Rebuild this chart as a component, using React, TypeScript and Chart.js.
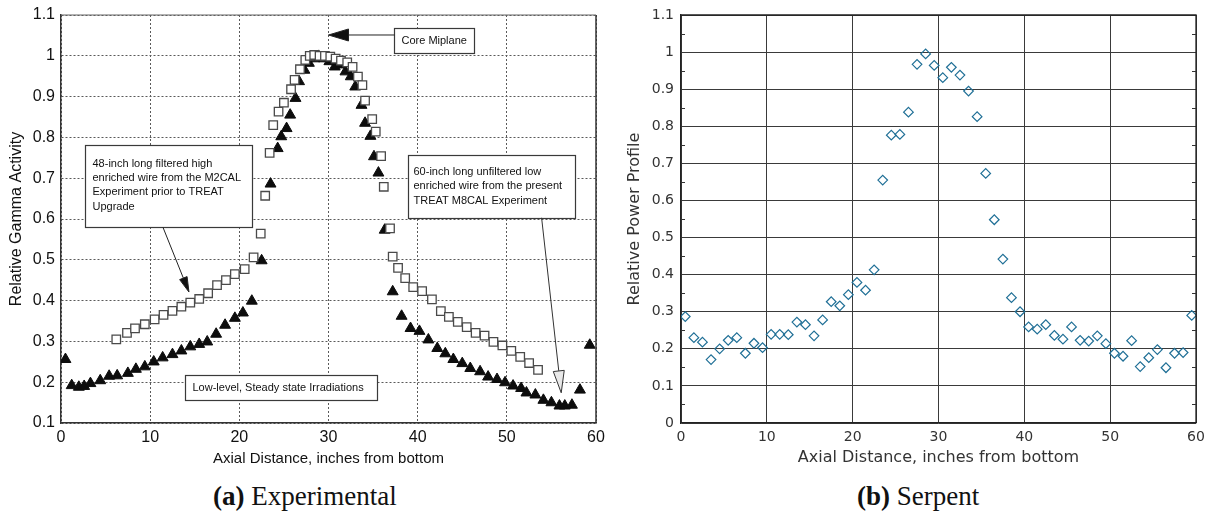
import React, { useEffect, useRef } from 'react';
import Chart from 'chart.js/auto';

// ---------- Data: (a) Experimental ----------
// 48-inch M2CAL wire (open squares)
const m2calPositions = [6.2, 7.4, 8.3, 9.4, 10.5, 11.5, 12.5, 13.5, 14.5, 15.5, 16.5, 17.5, 18.5, 19.5, 20.6, 21.6, 22.4, 22.9, 23.4, 23.8, 24.4, 25.0, 25.8, 26.2, 26.8, 27.4, 27.9, 28.4, 29.0, 29.6, 30.2, 30.8, 31.4, 32.1, 32.7, 33.3, 33.8, 34.1, 34.9, 35.3, 35.9, 36.2, 36.9, 37.2, 37.8, 38.6, 39.5, 40.5, 41.6, 42.6, 43.5, 44.5, 45.5, 46.5, 47.5, 48.5, 49.5, 50.5, 51.5, 52.5, 53.5];
const m2calActivity = [0.305, 0.321, 0.332, 0.342, 0.354, 0.365, 0.375, 0.385, 0.395, 0.404, 0.418, 0.438, 0.45, 0.465, 0.477, 0.506, 0.564, 0.657, 0.762, 0.83, 0.863, 0.885, 0.918, 0.941, 0.967, 0.99, 1.0, 1.002, 1.0, 1.0, 0.998, 0.993, 0.988, 0.984, 0.973, 0.949, 0.928, 0.89, 0.845, 0.814, 0.754, 0.679, 0.577, 0.508, 0.48, 0.455, 0.433, 0.423, 0.403, 0.374, 0.36, 0.348, 0.335, 0.321, 0.314, 0.299, 0.29, 0.277, 0.262, 0.247, 0.23];

// 60-inch M8CAL wire (filled triangles)
const m8calPositions = [0.5, 1.2, 2.0, 2.6, 3.3, 4.4, 5.4, 6.3, 7.5, 8.4, 9.4, 10.4, 11.4, 12.5, 13.5, 14.5, 15.5, 16.4, 17.4, 18.4, 19.5, 20.4, 21.4, 22.5, 23.5, 24.3, 24.7, 25.3, 25.7, 26.3, 26.7, 27.3, 27.8, 28.4, 28.9, 29.5, 30.1, 30.7, 31.4, 31.9, 32.5, 33.0, 33.7, 34.1, 34.7, 35.1, 35.6, 36.3, 37.2, 38.2, 39.2, 40.2, 41.2, 42.2, 43.1, 44.0, 45.0, 45.9, 47.0, 47.9, 48.9, 49.8, 50.7, 51.6, 52.2, 53.2, 54.1, 55.0, 55.9, 56.5, 57.3, 58.2, 59.3];
const m8calActivity = [0.256, 0.192, 0.188, 0.19, 0.197, 0.204, 0.215, 0.216, 0.222, 0.232, 0.238, 0.25, 0.26, 0.268, 0.277, 0.287, 0.293, 0.299, 0.318, 0.34, 0.357, 0.37, 0.399, 0.498, 0.686, 0.773, 0.802, 0.822, 0.855, 0.896, 0.937, 0.965, 0.982, 0.993, 0.999, 0.993, 0.986, 0.973, 0.978, 0.961, 0.949, 0.924, 0.879, 0.835, 0.803, 0.753, 0.713, 0.573, 0.422, 0.362, 0.332, 0.325, 0.304, 0.283, 0.27, 0.256, 0.246, 0.234, 0.226, 0.213, 0.207, 0.199, 0.191, 0.185, 0.174, 0.169, 0.156, 0.15, 0.142, 0.142, 0.144, 0.181, 0.291];

const expXTicks = [0, 10, 20, 30, 40, 50, 60];
const expYTicks = [0.1, 0.2, 0.3, 0.4, 0.5, 0.6, 0.7, 0.8, 0.9, 1.0, 1.1];

const coreLabel = ['Core Miplane'];
const m2calLabel = ['48-inch long filtered high', 'enriched wire from the M2CAL', 'Experiment prior to TREAT', 'Upgrade'];
const m8calLabel = ['60-inch long unfiltered low', 'enriched wire from the present', 'TREAT M8CAL Experiment'];
const irradLabel = ['Low-level, Steady state Irradiations'];

// ---------- Data: (b) Serpent ----------
const serpentPositions = [0.5, 1.5, 2.5, 3.5, 4.5, 5.5, 6.5, 7.5, 8.5, 9.5, 10.5, 11.5, 12.5, 13.5, 14.5, 15.5, 16.5, 17.5, 18.5, 19.5, 20.5, 21.5, 22.5, 23.5, 24.5, 25.5, 26.5, 27.5, 28.5, 29.5, 30.5, 31.5, 32.5, 33.5, 34.5, 35.5, 36.5, 37.5, 38.5, 39.5, 40.5, 41.5, 42.5, 43.5, 44.5, 45.5, 46.5, 47.5, 48.5, 49.5, 50.5, 51.5, 52.5, 53.5, 54.5, 55.5, 56.5, 57.5, 58.5, 59.5];
const serpentPower = [0.287, 0.23, 0.218, 0.171, 0.2, 0.223, 0.23, 0.188, 0.215, 0.203, 0.239, 0.239, 0.238, 0.272, 0.265, 0.235, 0.278, 0.327, 0.316, 0.346, 0.379, 0.358, 0.413, 0.655, 0.776, 0.778, 0.838, 0.967, 0.995, 0.964, 0.931, 0.959, 0.938, 0.895, 0.826, 0.673, 0.548, 0.442, 0.338, 0.3, 0.259, 0.253, 0.265, 0.236, 0.226, 0.259, 0.223, 0.221, 0.235, 0.214, 0.188, 0.18, 0.222, 0.152, 0.176, 0.198, 0.149, 0.188, 0.19, 0.29];
const serpentXTicks = [0, 10, 20, 30, 40, 50, 60];
const serpentYTicks = [0, 0.1, 0.2, 0.3, 0.4, 0.5, 0.6, 0.7, 0.8, 0.9, 1.0, 1.1];
const serpentMinorTicks = [0.05, 0.15, 0.25, 0.35, 0.45, 0.55, 0.65, 0.75, 0.85, 0.95, 1.05];

const SANS = "'Liberation Sans', Arial, Helvetica, sans-serif";
const DEJAVU = "'DejaVu Sans', 'Noto Sans', sans-serif";

const fmt = (v: any) => String(Math.round(Number(v) * 10) / 10);

function drawArrow(ctx: CanvasRenderingContext2D, x1: number, y1: number, x2: number, y2: number, headLen: number, headHalf: number, fill: string, stroke: string) {
  const ang = Math.atan2(y2 - y1, x2 - x1);
  const bx = x2 - headLen * Math.cos(ang);
  const by = y2 - headLen * Math.sin(ang);
  ctx.strokeStyle = stroke;
  ctx.lineWidth = 1;
  ctx.beginPath();
  ctx.moveTo(x1, y1);
  ctx.lineTo(bx, by);
  ctx.stroke();
  const px = -Math.sin(ang) * headHalf;
  const py = Math.cos(ang) * headHalf;
  ctx.beginPath();
  ctx.moveTo(x2, y2);
  ctx.lineTo(bx + px, by + py);
  ctx.lineTo(bx - px, by - py);
  ctx.closePath();
  ctx.fillStyle = fill;
  ctx.fill();
  ctx.stroke();
}

function drawBox(ctx: CanvasRenderingContext2D, x1: number, y1: number, x2: number, y2: number, lines: string[], padX: number, firstY: number, lineGap: number) {
  const l = Math.round(Math.min(x1, x2)) + 0.5;
  const t = Math.round(Math.min(y1, y2)) + 0.5;
  const w = Math.round(Math.abs(x2 - x1));
  const h = Math.round(Math.abs(y2 - y1));
  ctx.fillStyle = '#ffffff';
  ctx.fillRect(l, t, w, h);
  ctx.strokeStyle = '#3a3a3a';
  ctx.lineWidth = 1.2;
  ctx.strokeRect(l, t, w, h);
  ctx.fillStyle = '#111';
  ctx.font = `11px ${SANS}`;
  ctx.textAlign = 'left';
  ctx.textBaseline = 'middle';
  lines.forEach((s, i) => ctx.fillText(s, l + padX, t + firstY + i * lineGap));
}

const expAnnotations = {
  id: 'expAnnotations',
  afterDatasetsDraw(chart: any) {
    const { ctx, chartArea, scales } = chart;
    const X = (v: number) => scales.x.getPixelForValue(v);
    const Y = (v: number) => scales.y.getPixelForValue(v);
    ctx.save();
    // solid right and top frame
    ctx.strokeStyle = '#333';
    ctx.lineWidth = 1.5;
    ctx.beginPath();
    ctx.moveTo(chartArea.right, chartArea.top);
    ctx.lineTo(chartArea.right, chartArea.bottom);
    ctx.stroke();
    ctx.strokeStyle = '#666';
    ctx.lineWidth = 1.2;
    ctx.beginPath();
    ctx.moveTo(chartArea.left, chartArea.top);
    ctx.lineTo(chartArea.right, chartArea.top);
    ctx.stroke();

    // Core midplane
    drawBox(ctx, X(37.4), Y(1.068), X(46.4), Y(1.007), coreLabel, 7, 12.5, 14);
    drawArrow(ctx, X(37.4), Y(1.051), X(30.0), Y(1.051), 20, 6, '#111', '#222');

    // 48-inch
    drawBox(ctx, X(2.69), Y(0.781), X(21.4), Y(0.580), m2calLabel, 7, 18, 14.4);
    drawArrow(ctx, X(11.43), Y(0.580), X(14.35), Y(0.421), 15, 4, '#111', '#222');

    // 60-inch
    drawBox(ctx, X(38.9), Y(0.757), X(57.6), Y(0.603), m8calLabel, 5, 16, 14.5);
    drawArrow(ctx, X(53.9), Y(0.603), X(56.1), Y(0.174), 22, 5.5, '#e8e8e8', '#333');

    // Low-level
    drawBox(ctx, X(13.9), Y(0.218), X(35.4), Y(0.156), irradLabel, 7, 12.5, 14);
    ctx.restore();
  },
};

const serpentFrame = {
  id: 'serpentFrame',
  afterDatasetsDraw(chart: any) {
    const { ctx, chartArea, scales } = chart;
    ctx.save();
    ctx.strokeStyle = '#222';
    ctx.lineWidth = 1.3;
    ctx.beginPath();
    ctx.moveTo(chartArea.left, chartArea.top);
    ctx.lineTo(chartArea.right, chartArea.top);
    ctx.lineTo(chartArea.right, chartArea.bottom);
    ctx.stroke();
    ctx.lineWidth = 1;
    ctx.strokeStyle = '#333';
    serpentMinorTicks.forEach((v) => {
      const y = Math.round(scales.y.getPixelForValue(v)) + 0.5;
      ctx.beginPath();
      ctx.moveTo(chartArea.left, y);
      ctx.lineTo(chartArea.left + 4, y);
      ctx.moveTo(chartArea.right, y);
      ctx.lineTo(chartArea.right - 4, y);
      ctx.stroke();
    });
    ctx.restore();
  },
};

function expConfig(): any {
  return {
    type: 'scatter',
    data: {
      datasets: [
        {
          label: '48-inch M2CAL',
          data: m2calPositions.map((x, i) => ({ x, y: m2calActivity[i] })),
          pointStyle: 'rect',
          pointRadius: 6,
          borderColor: '#4a4a4a',
          backgroundColor: '#ffffff',
          borderWidth: 1.3,
        },
        {
          label: '60-inch M8CAL',
          data: m8calPositions.map((x, i) => ({ x, y: m8calActivity[i] })),
          pointStyle: 'triangle',
          pointRadius: 6.3,
          borderColor: '#0d0d0d',
          backgroundColor: '#0d0d0d',
          borderWidth: 1,
        },
      ],
    },
    options: {
      animation: false,
      responsive: false,
      devicePixelRatio: 1,
      layout: { padding: { left: 0, top: 15, right: 14, bottom: 0 } },
      plugins: { legend: { display: false }, tooltip: { enabled: false } },
      scales: {
        x: {
          type: 'linear',
          min: 0,
          max: 60,
          afterBuildTicks: (s: any) => { s.ticks = expXTicks.map((v) => ({ value: v })); },
          ticks: { font: { family: SANS, size: 16 }, color: '#111', padding: 5, maxRotation: 0, autoSkip: false, callback: fmt },
          grid: { color: '#5a5a5a', lineWidth: 1, drawTicks: false },
          border: { display: true, color: '#333', width: 1.5, dash: [2, 2] },
          title: { display: true, text: 'Axial Distance, inches from bottom', color: '#111', font: { family: SANS, size: 15 }, padding: { top: 0, bottom: 7 } },
          afterFit: (s: any) => { s.height = 52; s.paddingLeft = 0; s.paddingRight = 0; },
        },
        y: {
          type: 'linear',
          min: 0.1,
          max: 1.1,
          afterBuildTicks: (s: any) => { s.ticks = expYTicks.map((v) => ({ value: v })); },
          ticks: { font: { family: SANS, size: 16 }, color: '#111', padding: 6, autoSkip: false, callback: fmt },
          grid: { color: '#5a5a5a', lineWidth: 1, drawTicks: false },
          border: { display: true, color: '#333', width: 1.5, dash: [2, 2] },
          title: { display: true, text: 'Relative Gamma Activity', color: '#111', font: { family: SANS, size: 16 }, padding: { top: 7, bottom: 0 } },
          afterFit: (s: any) => { s.width = 61; s.paddingTop = 0; s.paddingBottom = 0; },
        },
      },
    },
    plugins: [expAnnotations],
  };
}

function serpentConfig(): any {
  return {
    type: 'scatter',
    data: {
      datasets: [
        {
          label: 'Serpent',
          data: serpentPositions.map((x, i) => ({ x, y: serpentPower[i] })),
          pointStyle: 'rectRot',
          pointRadius: 4.8,
          borderColor: '#1f6f96',
          backgroundColor: 'rgba(255,255,255,0)',
          borderWidth: 1.2,
        },
      ],
    },
    options: {
      animation: false,
      responsive: false,
      devicePixelRatio: 1,
      layout: { padding: { left: 0, top: 15, right: 15, bottom: 0 } },
      plugins: { legend: { display: false }, tooltip: { enabled: false } },
      scales: {
        x: {
          type: 'linear',
          min: 0,
          max: 60,
          afterBuildTicks: (s: any) => { s.ticks = serpentXTicks.map((v) => ({ value: v })); },
          ticks: { font: { family: DEJAVU, size: 14 }, color: '#333', padding: 6, maxRotation: 0, autoSkip: false, callback: fmt },
          grid: { color: '#3a3a3a', lineWidth: 1, drawTicks: false },
          border: { display: true, color: '#222', width: 1.3 },
          title: { display: true, text: 'Axial Distance, inches from bottom', color: '#333', font: { family: DEJAVU, size: 16 }, padding: { top: 0, bottom: 8 } },
          afterFit: (s: any) => { s.height = 52; s.paddingLeft = 0; s.paddingRight = 0; },
        },
        y: {
          type: 'linear',
          min: 0,
          max: 1.1,
          afterBuildTicks: (s: any) => { s.ticks = serpentYTicks.map((v) => ({ value: v })); },
          ticks: { font: { family: DEJAVU, size: 14 }, color: '#333', padding: 7, autoSkip: false, callback: fmt },
          grid: { color: '#3a3a3a', lineWidth: 1, drawTicks: false },
          border: { display: true, color: '#222', width: 1.3 },
          title: { display: true, text: 'Relative Power Profile', color: '#333', font: { family: DEJAVU, size: 16 }, padding: { top: 15, bottom: 0 } },
          afterFit: (s: any) => { s.width = 71; s.paddingTop = 0; s.paddingBottom = 0; },
        },
      },
    },
    plugins: [serpentFrame],
  };
}

const captionStyle = (left: number): React.CSSProperties => ({
  position: 'absolute',
  left,
  top: 483,
  fontFamily: "'Liberation Serif', 'Times New Roman', serif",
  fontSize: 27,
  lineHeight: '27px',
  whiteSpace: 'nowrap',
  color: '#111',
});

export default function App() {
  const leftRef = useRef<HTMLCanvasElement>(null);
  const rightRef = useRef<HTMLCanvasElement>(null);

  useEffect(() => {
    const c1 = new Chart(leftRef.current as HTMLCanvasElement, expConfig());
    const c2 = new Chart(rightRef.current as HTMLCanvasElement, serpentConfig());
    return () => {
      c1.destroy();
      c2.destroy();
    };
  }, []);

  return (
    <div style={{ position: 'absolute', left: 0, top: 0, width: 1211, height: 515, background: '#fff', overflow: 'hidden' }}>
      <canvas ref={leftRef} width={610} height={475} style={{ position: 'absolute', left: 0, top: 0, width: 610, height: 475 }} />
      <canvas ref={rightRef} width={601} height={475} style={{ position: 'absolute', left: 610, top: 0, width: 601, height: 475 }} />
      <div style={captionStyle(213)}><b>(a)</b> Experimental</div>
      <div style={captionStyle(857)}><b>(b)</b> Serpent</div>
    </div>
  );
}
